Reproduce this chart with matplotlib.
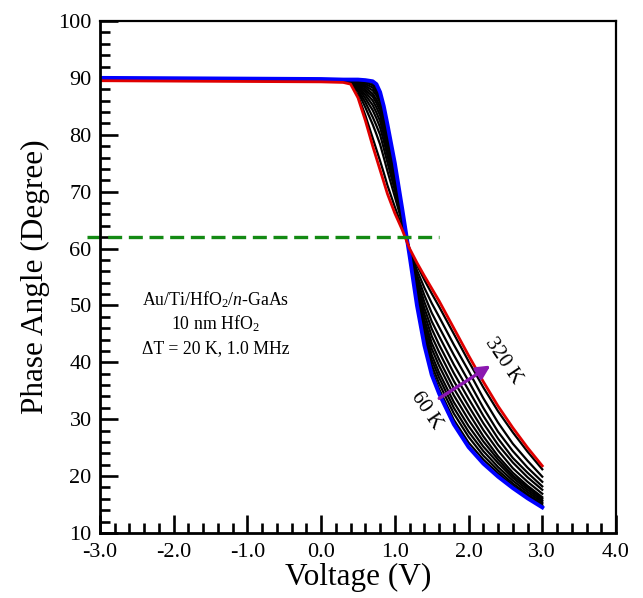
import matplotlib
matplotlib.use('Agg')
import matplotlib.pyplot as plt
from matplotlib.ticker import MultipleLocator, FormatStrFormatter

plt.rcParams['font.family'] = ['Liberation Serif', 'DejaVu Serif']
plt.rcParams['mathtext.fontset'] = 'custom'
plt.rcParams['mathtext.rm'] = 'Liberation Serif'
plt.rcParams['mathtext.it'] = 'Liberation Serif:italic'
plt.rcParams['axes.unicode_minus'] = False

# voltage points (V)
voltage = [-3.0, -1.5, 0.0, 0.3, 0.4, 0.5, 0.6, 0.7, 0.75, 0.8, 0.85, 0.9, 1.0, 1.1,
           1.2, 1.3, 1.4, 1.5, 1.6, 1.8, 2.0, 2.2, 2.4, 2.6, 2.8, 3.0]

# phase angle (degree) per temperature
phase_60K  = [90.0, 89.9, 89.8, 89.7, 89.7, 89.7, 89.6, 89.4, 88.9, 87.5, 85.0, 81.8, 75.0, 67.0,
              58.7, 50.0, 43.0, 37.8, 34.5, 29.1, 25.1, 22.2, 19.9, 17.9, 16.1, 14.5]
phase_80K  = [89.9, 89.8, 89.7, 89.6, 89.6, 89.6, 89.4, 89.1, 88.4, 87.1, 84.6, 81.4, 74.7, 66.9,
              58.8, 50.4, 43.6, 38.6, 35.3, 29.9, 25.9, 22.9, 20.5, 18.3, 16.5, 14.8]
phase_100K = [89.9, 89.8, 89.7, 89.6, 89.6, 89.5, 89.2, 88.7, 87.9, 86.7, 84.2, 81.1, 74.5, 66.8,
              58.8, 50.8, 44.3, 39.5, 36.3, 31.0, 26.9, 23.6, 21.0, 18.7, 16.8, 15.1]
phase_120K = [89.9, 89.8, 89.7, 89.6, 89.6, 89.4, 88.9, 88.3, 87.4, 86.1, 83.6, 80.6, 74.1, 66.6,
              58.9, 51.3, 45.1, 40.4, 37.3, 32.0, 27.8, 24.4, 21.6, 19.2, 17.2, 15.4]
phase_140K = [89.9, 89.8, 89.7, 89.6, 89.6, 89.3, 88.6, 87.8, 86.9, 85.6, 83.1, 80.1, 73.8, 66.5,
              59.0, 51.7, 45.8, 41.3, 38.2, 33.0, 28.8, 25.2, 22.3, 19.7, 17.6, 15.7]
phase_160K = [89.9, 89.8, 89.7, 89.6, 89.5, 89.1, 88.3, 87.2, 86.2, 84.9, 82.4, 79.5, 73.3, 66.3,
              59.1, 52.3, 46.7, 42.4, 39.4, 34.2, 29.9, 26.1, 22.9, 20.1, 18.0, 16.0]
phase_180K = [89.9, 89.8, 89.7, 89.6, 89.5, 88.9, 87.9, 86.7, 85.6, 84.2, 81.7, 78.9, 72.9, 66.1,
              59.2, 52.8, 47.5, 43.4, 40.5, 35.4, 31.1, 27.0, 23.5, 20.6, 18.3, 16.3]
phase_200K = [89.9, 89.8, 89.7, 89.6, 89.5, 88.7, 87.5, 86.0, 84.8, 83.4, 80.9, 78.1, 72.4, 65.9,
              59.3, 53.4, 48.5, 44.6, 41.8, 36.7, 32.3, 28.1, 24.5, 21.4, 19.0, 16.9]
phase_220K = [89.9, 89.8, 89.7, 89.6, 89.4, 88.5, 87.0, 85.2, 83.9, 82.4, 80.0, 77.3, 71.7, 65.6,
              59.4, 54.0, 49.5, 45.9, 43.1, 38.1, 33.6, 29.3, 25.5, 22.4, 19.8, 17.6]
phase_240K = [89.9, 89.8, 89.7, 89.6, 89.3, 88.3, 86.4, 84.3, 82.9, 81.3, 78.9, 76.3, 71.0, 65.3,
              59.5, 54.7, 50.6, 47.2, 44.6, 39.6, 35.1, 30.6, 26.6, 23.2, 20.6, 18.2]
phase_260K = [89.8, 89.7, 89.6, 89.5, 89.3, 87.9, 85.7, 83.1, 81.6, 80.0, 77.6, 75.1, 70.2, 65.0,
              59.6, 55.4, 51.8, 48.7, 46.2, 41.3, 36.7, 32.0, 27.8, 24.4, 21.5, 19.0]
phase_280K = [89.8, 89.7, 89.6, 89.5, 89.2, 87.6, 84.8, 81.8, 80.1, 78.3, 76.0, 73.6, 69.1, 64.5,
              59.8, 56.2, 53.1, 50.4, 48.0, 43.1, 38.5, 33.7, 29.4, 25.7, 22.7, 19.9]
phase_300K = [89.6, 89.5, 89.4, 89.3, 89.0, 86.9, 83.4, 79.4, 77.4, 75.4, 73.3, 71.1, 67.3, 63.7,
              59.9, 57.1, 54.5, 52.1, 49.8, 45.0, 40.2, 35.6, 31.4, 27.7, 24.3, 21.2]
phase_320K = [89.5, 89.4, 89.3, 89.2, 88.9, 86.5, 82.5, 78.0, 75.9, 73.8, 71.7, 69.6, 66.2, 63.3,
              60.0, 57.5, 55.2, 53.0, 50.8, 46.0, 41.2, 36.6, 32.3, 28.5, 25.0, 21.8]

black_curves = [phase_80K, phase_100K, phase_120K, phase_140K, phase_160K, phase_180K,
                phase_200K, phase_220K, phase_240K, phase_260K, phase_280K, phase_300K]

crossing_phase = 62
crossing_v = [-3.17, 1.6]

fig = plt.figure(figsize=(6.43, 5.98), dpi=100)
ax = fig.add_axes([0.1555, 0.1087, 0.8025, 0.8562])

for ph in black_curves:
    ax.plot(voltage, ph, c='black', lw=1.6)
ax.plot(voltage, phase_60K, c='#0000ff', lw=2.8)
ax.plot(voltage, phase_320K, c='#e00000', lw=2.0)

ax.plot(crossing_v, [crossing_phase, crossing_phase], c='#138a13', lw=2.4,
        dashes=(4.2, 2.0), clip_on=False)

ax.annotate('', xy=(2.33, 39.7), xytext=(1.57, 33.4),
            arrowprops=dict(arrowstyle='-|>', color='#8b18b0', lw=2.4, mutation_scale=20))
ax.text(2.47, 40.3, '320 K', rotation=-56, fontsize=15, ha='center', va='center')
ax.text(1.42, 31.6, '60 K', rotation=-56, fontsize=15, ha='center', va='center')

ax.text(-1.43, 51.0, 'Au/Ti/HfO$_2$/$n$-GaAs', fontsize=12.8, ha='center', va='center')
ax.text(-1.43, 46.8, '10 nm HfO$_2$', fontsize=12.8, ha='center', va='center')
ax.text(-1.43, 42.5, '\u0394T = 20 K, 1.0 MHz', fontsize=12.8, ha='center', va='center')

ax.set_xlim(-3, 4)
ax.set_ylim(10, 100)
ax.xaxis.set_major_locator(MultipleLocator(1.0))
ax.xaxis.set_minor_locator(MultipleLocator(0.2))
ax.yaxis.set_major_locator(MultipleLocator(10))
ax.yaxis.set_minor_locator(MultipleLocator(2))
ax.xaxis.set_major_formatter(FormatStrFormatter('%.1f'))
ax.tick_params(which='both', direction='in', top=False, right=False, width=1.9, labelsize=16)
ax.tick_params(which='major', length=13)
ax.tick_params(which='minor', length=7)
ax.tick_params(axis='x', pad=7)
ax.tick_params(axis='y', pad=6)
for s in ['left', 'bottom']:
    ax.spines[s].set_linewidth(2.0)
for s in ['top', 'right']:
    ax.spines[s].set_linewidth(1.6)

ax.set_xlabel('Voltage (V)', fontsize=22.5, labelpad=1)
ax.set_ylabel('Phase Angle (Degree)', fontsize=22.5, labelpad=6)

fig.savefig('out.png', dpi=100)
